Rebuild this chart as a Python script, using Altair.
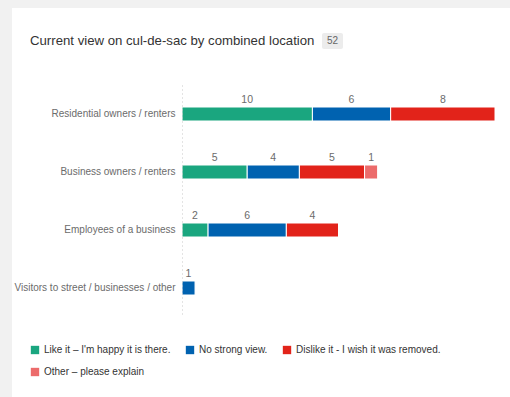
import altair as alt
import pandas as pd

categories = ["Residential owners / renters", "Business owners / renters",
              "Employees of a business", "Visitors to street / businesses / other"]
responses = ["Like it – I'm happy it is there.", "No strong view.",
             "Dislike it - I wish it was removed.", "Other – please explain"]
like_it = [10, 5, 2, 0]
no_view = [6, 4, 6, 1]
dislike = [8, 5, 4, 0]
other = [0, 1, 0, 0]
colors = ["#1aa67f", "#0062b0", "#e2231a", "#ec6b6b"]
total_n = 52
title_text = "Current view on cul-de-sac by combined location"

rows = []
for ci, cat in enumerate(categories):
    for ri, (resp, vals) in enumerate(zip(responses, [like_it, no_view, dislike, other])):
        if vals[ci] > 0:
            rows.append({"location": cat, "response": resp, "count": vals[ci], "order": ri})
df = pd.DataFrame(rows)

FONT = "Liberation Sans"

base = alt.Chart(df).transform_stack(
    stack="count", groupby=["location"], as_=["x0", "x1"],
    sort=[alt.SortField("order", order="ascending")]
).transform_calculate(mid="(datum.x0 + datum.x1) / 2")

yenc = alt.Y("location:N", sort=categories, title=None,
             scale=alt.Scale(paddingInner=0, paddingOuter=0),
             axis=alt.Axis(ticks=False, labelPadding=7, labelFontSize=10,
                           labelColor="#6b6b6b", labelFont=FONT, labelLimit=300,
                           domainColor="#c8c8c8", domainDash=[1, 3], domainWidth=1,
                           grid=False, zindex=1))
xscale = alt.Scale(domain=[0, 24], nice=False)

bars = base.mark_bar(size=14, stroke="white", strokeWidth=1).encode(
    x=alt.X("x0:Q", scale=xscale, axis=None),
    x2="x1:Q",
    y=yenc,
    color=alt.Color("response:N", sort=responses,
                    scale=alt.Scale(domain=responses, range=colors),
                    legend=alt.Legend(orient="none", legendX=-152, legendY=260,
                                      direction="horizontal", columns=3, title=None,
                                      symbolType="square", symbolSize=70,
                                      symbolStrokeWidth=0, labelFontSize=10,
                                      labelColor="#333333", labelFont=FONT,
                                      columnPadding=14, rowPadding=12,
                                      labelLimit=400, symbolOffset=0)),
    order=alt.Order("order:Q"),
)

labels = base.mark_text(dy=-14, fontSize=10.5, color="#6b6b6b", font=FONT).encode(
    x=alt.X("mid:Q", scale=xscale, axis=None),
    y=alt.Y("location:N", sort=categories),
    text="count:Q",
)

card = alt.Chart(pd.DataFrame({"a": [0]})).mark_rect(color="white").encode(
    x=alt.value(-170), x2=alt.value(340), y=alt.value(-77), y2=alt.value(320))

title_df = pd.DataFrame({"t": [title_text]})
title = alt.Chart(title_df).mark_text(align="left", baseline="middle", fontSize=13.2,
                                      color="#333333", font=FONT).encode(
    x=alt.value(-152), y=alt.value(-44), text="t:N")

badge_df = pd.DataFrame({"n": [str(total_n)]})
badge_bg = alt.Chart(badge_df).mark_rect(color="#ececec", cornerRadius=2).encode(
    x=alt.value(140), x2=alt.value(161), y=alt.value(-52), y2=alt.value(-36))
badge = alt.Chart(badge_df).mark_text(align="center", baseline="middle", fontSize=10,
                                      color="#666666", font=FONT).encode(
    x=alt.value(150.5), y=alt.value(-44), text="n:N")

chart = alt.layer(card, title, badge_bg, badge, bars, labels).properties(
    width=313, height=232,
    autosize=alt.AutoSizeParams(type="none"),
    padding={"left": 182, "top": 85, "right": 15, "bottom": 80},
    background="#f1f1f1",
).configure_view(stroke=None)

chart.save("out.html", embed_options={"renderer": "svg", "actions": False})
